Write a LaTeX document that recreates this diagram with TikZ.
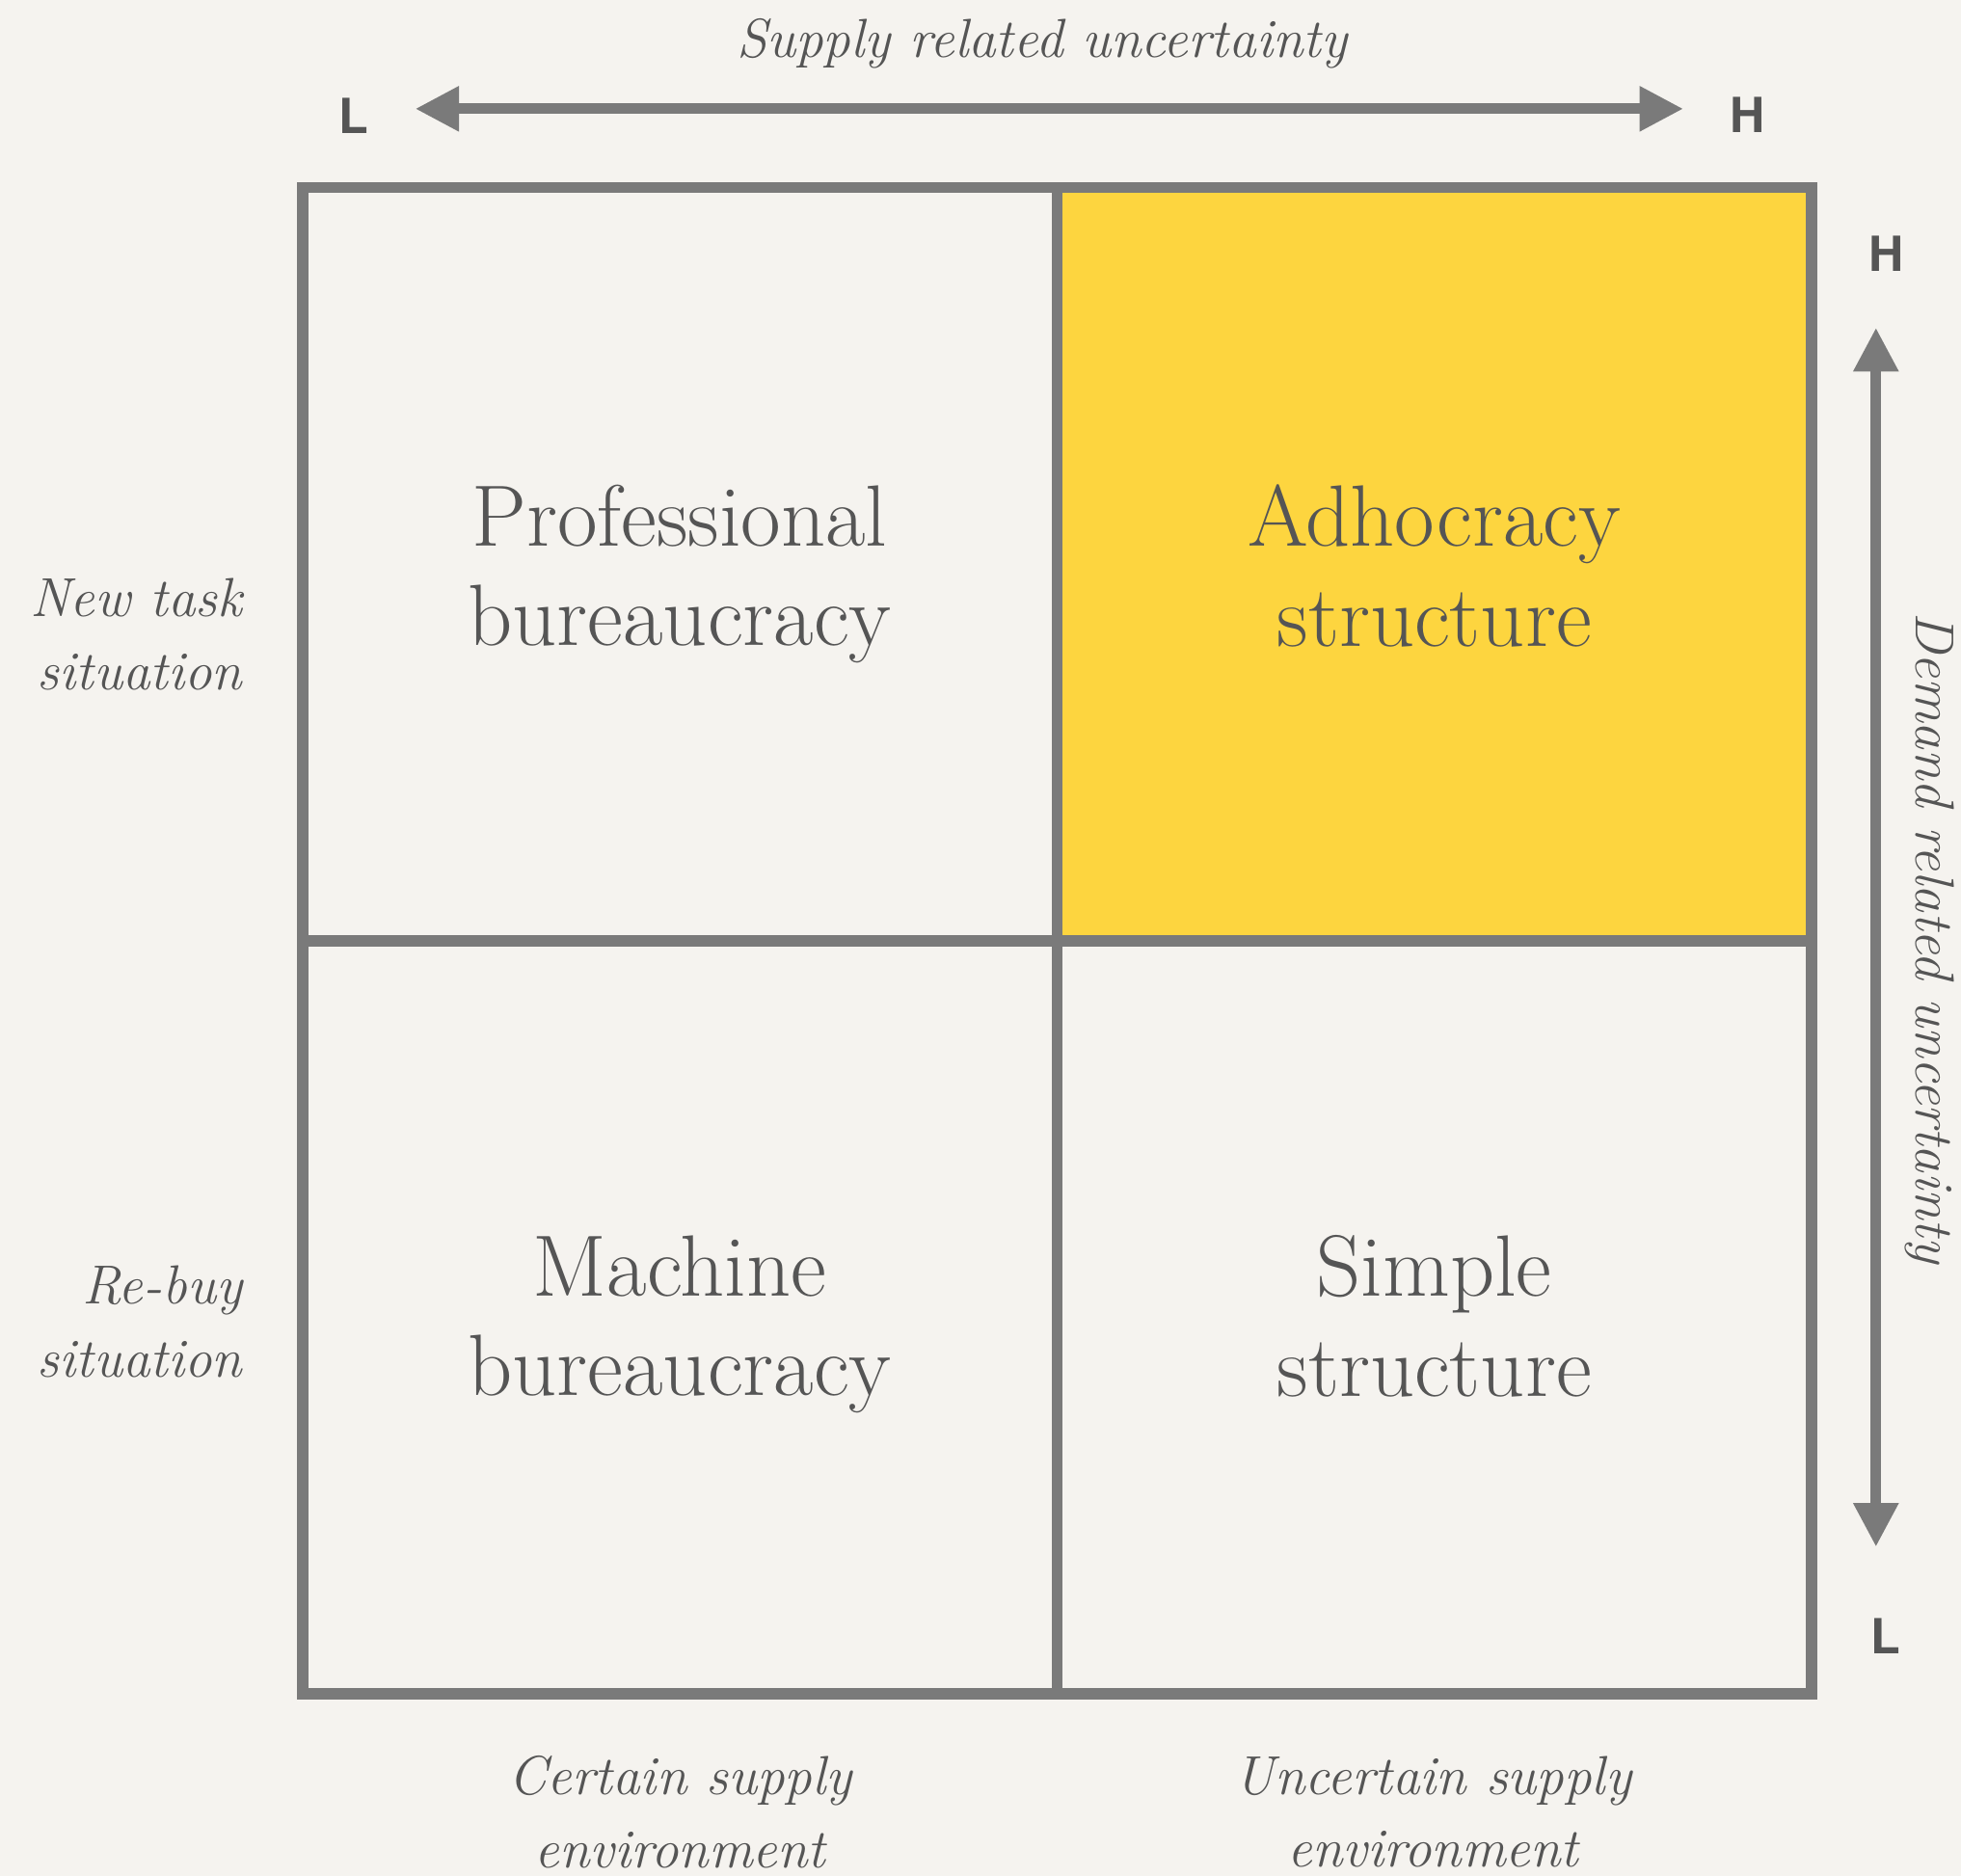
\documentclass[tikz,border=0pt]{standalone}
\usepackage{fontspec}
\usepackage{tikz}
\usetikzlibrary{arrows.meta,positioning}
\newfontfamily\lhfont{TeX Gyre Heros}
\definecolor{paper}{RGB}{245,243,239}
\definecolor{rule}{RGB}{122,122,122}
\definecolor{ink}{RGB}{85,85,85}
\definecolor{gold}{RGB}{253,213,63}

\begin{document}
\begin{tikzpicture}[x=0.01cm,y=-0.01cm,
    cell/.style={draw=rule,line width=0.09cm,outer sep=0pt,inner sep=0pt,
      minimum width=6.03cm,minimum height=6.02cm},
    celltext/.style={text=ink,align=center,inner sep=0pt,
      font=\fontsize{19.8}{22.7}\selectfont},
    side/.style={text=ink,align=right,font=\fontsize{12.5}{16.7}\selectfont\itshape},
    foot/.style={text=ink,align=center,font=\fontsize{12.5}{16.5}\selectfont\itshape},
    tick/.style={text=ink,font=\lhfont\bfseries\fontsize{11}{11}\selectfont},
    axis/.style={draw=rule,line width=0.085cm,
      {Triangle[length=0.35cm,width=0.34cm]}-{Triangle[length=0.35cm,width=0.34cm]}}]
  \fill[paper] (0,0) rectangle (1568,1500);
  \useasboundingbox (0,0) rectangle (1568,1500);

  % the four cells
  \node[cell] (prof) at (543.5,451) {};
  \node[cell,fill=gold,right=0pt of prof] (adhoc) {};
  \node[cell,below=0pt of prof] (machine) {};
  \node[cell,below=0pt of adhoc] (simple) {};
  \node[celltext,below=2.37cm of prof.north] (profT) {Professional\\bureaucracy};
  \node[celltext,below=2.37cm of adhoc.north] (adhocT) {Adhocracy\\structure};
  \node[celltext,below=2.35cm of machine.north] (machineT) {Machine\\bureaucracy};
  \node[celltext,below=2.35cm of simple.north] (simpleT) {Simple\\structure};

  % supply axis
  \node[foot] (supply) at (833,35) {Supply related uncertainty};
  \node[tick] (supL) at (283,93) {L};
  \node[tick] (supH) at (1397,92) {H};
  \coordinate (supLo) at (332,87);
  \coordinate (supHi) at (1346,87);
  \draw[axis] (supLo) -- (supHi);

  % demand axis
  \node[foot,rotate=-90] (demand) at (1543,750) {Demand related uncertainty};
  \node[tick] (demH) at (1508,203) {H};
  \node[tick] (demL) at (1508,1308) {L};
  \coordinate (demHi) at (1500,262);
  \coordinate (demLo) at (1500,1237);
  \draw[axis] (demHi) -- (demLo);

  % row and column labels
  \node[side,anchor=east] (newtask) at (206,507) {New task\\situation};
  \node[side,anchor=east] (rebuy) at (206,1057) {Re-buy\\situation};
  \node[foot] (certain) at (544,1449) {Certain supply\\environment};
  \node[foot] (uncertain) at (1146,1449) {Uncertain supply\\environment};
\end{tikzpicture}
\end{document}
